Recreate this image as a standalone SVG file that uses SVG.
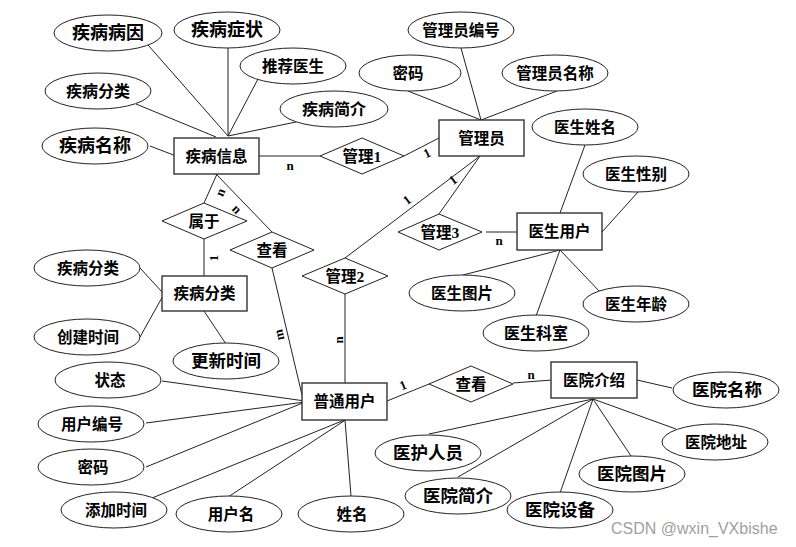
<svg xmlns="http://www.w3.org/2000/svg" width="796" height="547" viewBox="0 0 796 547">
<style>
.e{fill:#fff;stroke:#222;stroke-width:1}
.r{fill:#fff;stroke:#333;stroke-width:1.4}
.d{fill:#fff;stroke:#222;stroke-width:1}
.c line{stroke:#222;stroke-width:1}
text{font-family:"Liberation Serif","Noto Sans CJK SC",sans-serif;font-weight:bold;fill:#000;text-anchor:middle;dominant-baseline:central}
.s{font-size:15.5px}
.b{font-size:17.5px}
.l{font-size:13px}
.w{font-family:"Liberation Sans",Arial,sans-serif;font-weight:normal;font-size:16px;fill:#a0a0a0;text-anchor:start;dominant-baseline:alphabetic}
</style>
<rect width="796" height="547" fill="#fff"/>
<g class="c" id="connectors">
<line x1="148" y1="45" x2="228" y2="136"/>
<line x1="228" y1="48" x2="228" y2="136"/>
<line x1="258" y1="79" x2="228" y2="136"/>
<line x1="136" y1="104" x2="216" y2="137"/>
<line x1="296" y1="122" x2="228" y2="136"/>
<line x1="150" y1="146" x2="176" y2="156"/>
<line x1="259" y1="156" x2="320" y2="156"/>
<line x1="404" y1="156" x2="439" y2="138"/>
<line x1="461" y1="48" x2="481" y2="120"/>
<line x1="408" y1="91" x2="481" y2="120"/>
<line x1="557" y1="91" x2="481" y2="120"/>
<line x1="480" y1="156" x2="345" y2="258"/>
<line x1="480" y1="156" x2="439" y2="214"/>
<line x1="486" y1="232" x2="517" y2="232"/>
<line x1="585" y1="145" x2="560" y2="213"/>
<line x1="638" y1="192" x2="602" y2="232"/>
<line x1="560" y1="250" x2="463" y2="275"/>
<line x1="560" y1="250" x2="536" y2="316"/>
<line x1="560" y1="250" x2="601" y2="293"/>
<line x1="217" y1="174" x2="204" y2="203"/>
<line x1="216" y1="174" x2="272" y2="232"/>
<line x1="204" y1="239" x2="204" y2="276"/>
<line x1="140" y1="268" x2="163" y2="293"/>
<line x1="140" y1="337" x2="164" y2="294"/>
<line x1="204" y1="311" x2="226" y2="344"/>
<line x1="272" y1="268" x2="302" y2="395"/>
<line x1="345" y1="294" x2="345" y2="383"/>
<line x1="162" y1="381" x2="305" y2="401"/>
<line x1="146" y1="423" x2="305" y2="402"/>
<line x1="146" y1="467" x2="305" y2="402"/>
<line x1="152" y1="498" x2="347" y2="419"/>
<line x1="228" y1="497" x2="347" y2="419"/>
<line x1="351" y1="496" x2="345" y2="420"/>
<line x1="387" y1="401" x2="429" y2="384"/>
<line x1="513" y1="383" x2="552" y2="380"/>
<line x1="637" y1="380" x2="672" y2="388"/>
<line x1="593" y1="399" x2="429" y2="434"/>
<line x1="593" y1="399" x2="458" y2="477"/>
<line x1="593" y1="399" x2="560" y2="493"/>
<line x1="593" y1="399" x2="631" y2="456"/>
<line x1="593" y1="399" x2="676" y2="429"/>
</g>
<g id="cardinalities">
<text class="l" x="290" y="165">n</text>
<text class="l" transform="translate(427,153) rotate(-26)">1</text>
<text class="l" transform="translate(453,180) rotate(-37)">1</text>
<text class="l" transform="translate(407,200) rotate(-37)">1</text>
<text class="l" x="499" y="240">n</text>
<text class="l" transform="translate(220,192) rotate(-66)">n</text>
<text class="l" transform="translate(237,209) rotate(46)">n</text>
<text class="l" transform="translate(213,258) rotate(-90)">1</text>
<text class="l" transform="translate(279,335) rotate(-103)">m</text>
<text class="l" transform="translate(338,340) rotate(-90)">n</text>
<text class="l" transform="translate(403,385) rotate(-23)">1</text>
<text class="l" x="531" y="374">n</text>
</g>
<g id="jibingxinxi"><rect class="r" x="174" y="138" width="85" height="36"/><text class="s" x="216.5" y="156">疾病信息</text></g>
<g id="guanliyuan"><rect class="r" x="439" y="120" width="85" height="36"/><text class="s" x="481.5" y="138">管理员</text></g>
<g id="yishengyonghu"><rect class="r" x="517" y="213" width="85" height="37"/><text class="s" x="559.5" y="231.5">医生用户</text></g>
<g id="jibingfenlei"><rect class="r" x="162" y="276" width="85" height="35"/><text class="s" x="204.5" y="293.5">疾病分类</text></g>
<g id="putongyonghu"><rect class="r" x="302" y="383" width="85" height="37"/><text class="s" x="344.5" y="401.5">普通用户</text></g>
<g id="yiyuanjieshao"><rect class="r" x="551" y="362" width="86" height="36"/><text class="s" x="594" y="380">医院介绍</text></g>
<g id="guanli1"><polygon class="d" points="320,156 362,138 404,156 362,174"/><text class="s" x="362" y="156">管理1</text></g>
<g id="guanli2"><polygon class="d" points="302,276 345,258 388,276 345,294"/><text class="s" x="345" y="276">管理2</text></g>
<g id="guanli3"><polygon class="d" points="398,232 439,214 482,232 439,250"/><text class="s" x="440" y="232">管理3</text></g>
<g id="shuyu"><polygon class="d" points="162,221 204,203 247,221 204,239"/><text class="s" x="204" y="221">属于</text></g>
<g id="chakan1"><polygon class="d" points="230,250 272,232 314,250 272,268"/><text class="s" x="272" y="250">查看</text></g>
<g id="chakan2"><polygon class="d" points="429,384 471,366 513,384 471,402"/><text class="s" x="471" y="384">查看</text></g>
<g id="a1"><ellipse class="e" cx="108" cy="33" rx="54" ry="18"/><text class="b" x="108" y="33" style="font-size:18px">疾病病因</text></g>
<g id="a2"><ellipse class="e" cx="227" cy="30" rx="53" ry="18"/><text class="b" x="227" y="30" style="font-size:18px">疾病症状</text></g>
<g id="a3"><ellipse class="e" cx="293" cy="66" rx="53" ry="18"/><text class="s" x="293" y="66">推荐医生</text></g>
<g id="a4"><ellipse class="e" cx="98" cy="91" rx="53" ry="18"/><text class="s" x="98" y="91" style="font-size:16px">疾病分类</text></g>
<g id="a5"><ellipse class="e" cx="334" cy="109" rx="54" ry="18"/><text class="s" x="334" y="109" style="font-size:16px">疾病简介</text></g>
<g id="a6"><ellipse class="e" cx="95" cy="146" rx="53" ry="18"/><text class="b" x="95" y="146" style="font-size:18px">疾病名称</text></g>
<g id="a7"><ellipse class="e" cx="461" cy="30" rx="53" ry="18"/><text class="s" x="461" y="30">管理员编号</text></g>
<g id="a8"><ellipse class="e" cx="410" cy="73" rx="51" ry="18"/><text class="s" x="408" y="73">密码</text></g>
<g id="a9"><ellipse class="e" cx="555" cy="73" rx="53" ry="18"/><text class="s" x="555" y="73">管理员名称</text></g>
<g id="a10"><ellipse class="e" cx="585" cy="127" rx="53" ry="18"/><text class="s" x="585" y="127">医生姓名</text></g>
<g id="a11"><ellipse class="e" cx="636" cy="174" rx="53" ry="18"/><text class="s" x="636" y="174">医生性别</text></g>
<g id="a12"><ellipse class="e" cx="462" cy="293" rx="53" ry="18"/><text class="s" x="462" y="293">医生图片</text></g>
<g id="a13"><ellipse class="e" cx="536" cy="333" rx="53" ry="18"/><text class="s" x="536" y="333" style="font-size:16px">医生科室</text></g>
<g id="a14"><ellipse class="e" cx="636" cy="304" rx="53" ry="18"/><text class="s" x="636" y="304">医生年龄</text></g>
<g id="a15"><ellipse class="e" cx="87" cy="268" rx="53" ry="18"/><text class="s" x="88" y="268">疾病分类</text></g>
<g id="a16"><ellipse class="e" cx="87" cy="337" rx="53" ry="18"/><text class="s" x="88" y="337">创建时间</text></g>
<g id="a17"><ellipse class="e" cx="226" cy="361" rx="53" ry="18"/><text class="b" x="226" y="361">更新时间</text></g>
<g id="a18"><ellipse class="e" cx="108" cy="380" rx="53" ry="18"/><text class="s" x="110" y="380">状态</text></g>
<g id="a19"><ellipse class="e" cx="91" cy="424" rx="53" ry="18"/><text class="s" x="92" y="424">用户编号</text></g>
<g id="a20"><ellipse class="e" cx="91" cy="467" rx="53" ry="18"/><text class="s" x="93" y="467">密码</text></g>
<g id="a21"><ellipse class="e" cx="114" cy="510" rx="53" ry="18"/><text class="s" x="116" y="510">添加时间</text></g>
<g id="a22"><ellipse class="e" cx="229" cy="514" rx="53" ry="18"/><text class="s" x="231" y="514">用户名</text></g>
<g id="a23"><ellipse class="e" cx="351" cy="514" rx="53" ry="18"/><text class="s" x="352" y="514">姓名</text></g>
<g id="a24"><ellipse class="e" cx="726" cy="390" rx="53" ry="18"/><text class="b" x="727" y="390">医院名称</text></g>
<g id="a25"><ellipse class="e" cx="715" cy="442" rx="53" ry="18"/><text class="s" x="716" y="442">医院地址</text></g>
<g id="a26"><ellipse class="e" cx="428" cy="453" rx="53" ry="18"/><text class="b" x="428" y="453">医护人员</text></g>
<g id="a27"><ellipse class="e" cx="458" cy="496" rx="53" ry="18"/><text class="b" x="458" y="496">医院简介</text></g>
<g id="a28"><ellipse class="e" cx="560" cy="510" rx="53" ry="18"/><text class="b" x="560" y="510">医院设备</text></g>
<g id="a29"><ellipse class="e" cx="632" cy="474" rx="53" ry="18"/><text class="b" x="632" y="474">医院图片</text></g>
<text class="w" x="611" y="534">CSDN @wxin_VXbishe</text>
</svg>
